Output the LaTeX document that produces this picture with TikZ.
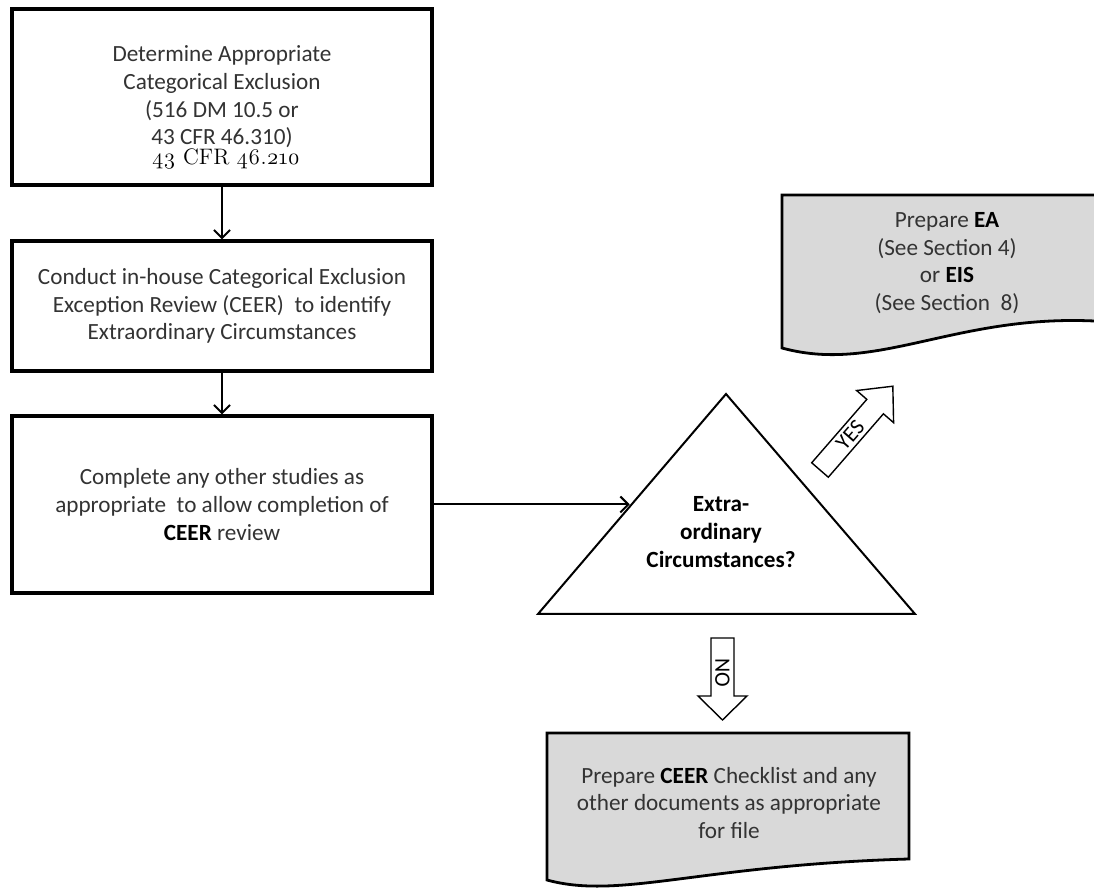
\documentclass[tikz,border=0pt]{standalone}
\usepackage{fontspec}
\setmainfont{Carlito}
\newfontfamily\osf{Latin Modern Roman}[Numbers=OldStyle]
\usetikzlibrary{arrows.meta,calc}
\definecolor{docgray}{HTML}{D9D9D9}
\definecolor{txt}{HTML}{333333}
\tikzset{
  every node/.style={font=\fontsize{11.6}{13.8}\selectfont, text=txt, align=center},
  procbox/.style={draw=black, line width=1.6pt, fill=white, minimum width=210pt, inner sep=0pt},
  docshape/.style={draw=black, line width=1.4pt, fill=docgray},
  flowline/.style={draw=black, line width=1pt, -{Straight Barb[length=4pt,width=8pt,line width=1pt]}},
  blockarrow/.style={draw=black, line width=0.7pt, fill=white, line join=miter},
  arrowlabel/.style={font=\fontsize{11}{12}\selectfont, text=black, inner sep=0pt},
}
\begin{document}
\begin{tikzpicture}[x=0.5pt,y=0.5pt]
\useasboundingbox (0,0) rectangle (1094,-892);
\clip (0,0) rectangle (1094,-892);
\fill[white] (0,0) rectangle (1094,-892);

% process boxes
\node[procbox, minimum height=88pt] (b1) at (222,-97)
  {Determine Appropriate\\Categorical Exclusion\\(516 DM 10.5 or\\43 CFR 46.310)};
\node[font=\osf\fontsize{11.2}{13}\selectfont, text=black] (b1note) at (226,-159) {43 CFR 46.210};
\node[procbox, minimum height=65pt] (b2) at (222,-306)
  {Conduct in-house Categorical Exclusion\\Exception Review (CEER)\ \ to identify\\Extraordinary Circumstances};
\node[procbox, minimum height=88.5pt] (b3) at (222,-504.5)
  {Complete any other studies as\\appropriate\ \ to allow completion of\\\textbf{\color{black}CEER} review};

\draw[flowline] (b1.south) -- (b2.north);
\draw[flowline] (b2.south) -- (b3.north);

% decision triangle
\coordinate (ta) at (726,-394);
\coordinate (tl) at (538,-614);
\coordinate (tr) at (915,-614);
\draw[line width=1pt, fill=white, line join=miter] (ta) -- (tl) -- (tr) -- cycle;
\node[text=black, font=\bfseries\fontsize{11.6}{13.8}\selectfont] (dec) at (721,-532)
  {Extra-\\ordinary\\Circumstances?};
\coordinate (tin) at ($(tl)!0.488!(ta)$);
\draw[flowline] (b3.east) -- (b3.east -| tin);

% EA / EIS document
\draw[docshape] (782,-195) -- (1110,-195) -- (1110,-322)
  .. controls (960,-310) and (880,-375) .. (782,-348) -- cycle;
\node (ea) at (947,-263)
  {Prepare \textbf{\color{black}EA}\\(See Section 4)\\or \textbf{\color{black}EIS}\\(See Section\ \ 8)};

% CEER checklist document
\draw[docshape] (547,-733) -- (909,-733) -- (909,-859)
  .. controls (700,-865) and (620,-900) .. (547,-880) -- cycle;
\node (ceer) at (729,-803)
  {Prepare \textbf{\color{black}CEER} Checklist and any\\other documents as appropriate\\for file};

% YES block arrow
\begin{scope}[shift={(820,-470)}, rotate=49]
  \draw[blockarrow] (0,-11) -- (84,-11) -- (84,-24.5) -- (111,0) -- (84,24.5) -- (84,11) -- (0,11) -- cycle;
  \node[arrowlabel, rotate=49] (yes) at (46,0) {YES};
\end{scope}

% NO block arrow
\draw[blockarrow] (711,-638) -- (734,-638) -- (734,-696) -- (747,-696) -- (722.5,-720)
  -- (698,-696) -- (711,-696) -- cycle;
\node[arrowlabel, rotate=-90] (no) at (722.5,-673) {NO};
\end{tikzpicture}
\end{document}
